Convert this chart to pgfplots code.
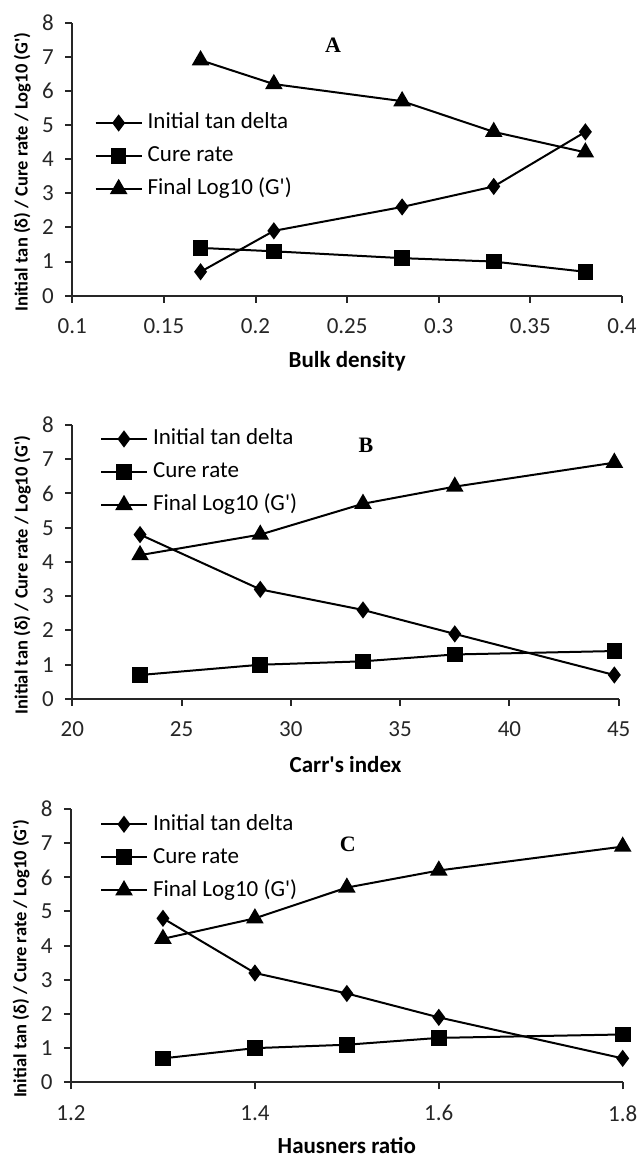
\documentclass[border=0pt]{standalone}
\usepackage{fontspec}
\setmainfont{Carlito}[Ligatures=TeXOff]
\newfontfamily\seriffont{Liberation Serif}
\usepackage{pgfplots}
\pgfplotsset{compat=1.18}
\definecolor{axgray}{HTML}{262626}
\tikzset{letter/.style={font=\seriffont\bfseries\fontsize{11}{13}\selectfont}}

\pgfplotsset{
  panel/.style={
    scale only axis,
    axis x line*=bottom, axis y line*=left,
    axis line style={line width=1pt, color=axgray, -},
    every tick/.style={line width=1pt, color=axgray},
    tick align=outside, major tick length=3.5pt,
    ymin=0, ymax=8, ytick={0,1,...,8},
    clip=false,
    tick label style={font=\fontsize{11.5}{13.8}\selectfont, color=axgray},
    /pgf/number format/assume math mode=true,
    /pgf/number format/fixed, /pgf/number format/precision=2,
    xticklabel style={yshift=-4.5pt},
    yticklabel style={xshift=-2.2pt},
    xlabel style={font=\bfseries\fontsize{11.5}{13.8}\selectfont, inner sep=0pt, at={([yshift=-33pt]axis description cs:0.5,0)}, anchor=center},
    ylabel style={font=\bfseries\fontsize{9.25}{11}\selectfont, inner sep=0pt, at={([xshift=-25pt,yshift=-6.5pt]axis description cs:0,0.5)}, anchor=center},
    ylabel={Initial tan (δ) / Cure rate / Log10 (G')},
    legend cell align=left,
    legend style={draw=none, fill=none, font=\fontsize{11.5}{13.8}\selectfont, inner sep=0pt, outer sep=0pt, row sep=4.5pt, column sep=2.5pt, nodes={inner sep=0pt, text height=9pt, text depth=3pt}},
    legend image code/.code={\draw[##1] (0pt,0pt) -- (23pt,0pt); \draw[##1] plot coordinates {(11.5pt,0pt)};},
  },
  sD/.style={black, line width=1pt, mark=diamond*, mark size=3.5pt, mark options={solid, fill=black}},
  sS/.style={black, line width=1pt, mark=square*, mark size=3.4pt, mark options={solid, fill=black}},
  sT/.style={black, line width=1pt, mark=triangle*, mark size=4.1pt, mark options={solid, fill=black}},
}

\begin{document}
\begin{tikzpicture}
\path[use as bounding box] (0pt,0pt) rectangle (319.5pt,579.5pt);

% Panel A
\begin{axis}[panel, at={(36.15pt,431.65pt)}, anchor=south west,
  width=274.85pt, height=136.5pt,
  xmin=0.1, xmax=0.4, xtick={0.1,0.15,0.2,0.25,0.3,0.35,0.4},
  xlabel={Bulk density},
  legend style={at={(0.0407,0.5117)}, anchor=west}]
\addplot[sD] coordinates {(0.17,0.7) (0.21,1.9) (0.28,2.6) (0.33,3.2) (0.38,4.8)};
\addplot[sS] coordinates {(0.17,1.4) (0.21,1.3) (0.28,1.1) (0.33,1.0) (0.38,0.7)};
\addplot[sT] coordinates {(0.17,6.9) (0.21,6.2) (0.28,5.7) (0.33,4.8) (0.38,4.2)};
\legend{Initial tan delta, Cure rate, Final Log10 (G')}
\node[letter] at (axis cs:0.2423,7.35) {A};
\end{axis}

% Panel B
\begin{axis}[panel, at={(36.15pt,230pt)}, anchor=south west,
  width=273.2pt, height=137pt,
  xmin=20, xmax=45, xtick={20,25,...,45},
  xlabel={Carr's index},
  legend style={at={(0.0507,0.8285)}, anchor=west}]
\addplot[sD] coordinates {(23.1,4.8) (28.6,3.2) (33.3,2.6) (37.5,1.9) (44.8,0.7)};
\addplot[sS] coordinates {(23.1,0.7) (28.6,1.0) (33.3,1.1) (37.5,1.3) (44.8,1.4)};
\addplot[sT] coordinates {(23.1,4.2) (28.6,4.8) (33.3,5.7) (37.5,6.2) (44.8,6.9)};
\legend{Initial tan delta, Cure rate, Final Log10 (G')}
\node[letter] at (axis cs:33.44,7.40) {B};
\end{axis}

% Panel C
\begin{axis}[panel, at={(35.5pt,38.35pt)}, anchor=south west,
  width=275.85pt, height=136.65pt,
  xmin=1.2, xmax=1.8, xtick={1.2,1.4,1.6,1.8},
  xlabel={Hausners ratio}, xlabel style={yshift=1.5pt},
  legend style={at={(0.0526,0.8233)}, anchor=west}]
\addplot[sD] coordinates {(1.3,4.8) (1.4,3.2) (1.5,2.6) (1.6,1.9) (1.8,0.7)};
\addplot[sS] coordinates {(1.3,0.7) (1.4,1.0) (1.5,1.1) (1.6,1.3) (1.8,1.4)};
\addplot[sT] coordinates {(1.3,4.2) (1.4,4.8) (1.5,5.7) (1.6,6.2) (1.8,6.9)};
\legend{Initial tan delta, Cure rate, Final Log10 (G')}
\node[letter] at (axis cs:1.501,6.98) {C};
\end{axis}
\end{tikzpicture}
\end{document}
